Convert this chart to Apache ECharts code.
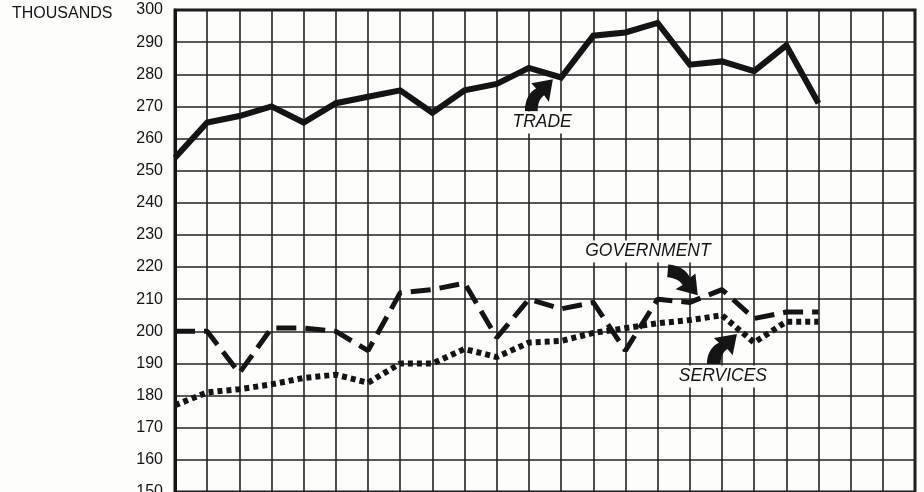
<!DOCTYPE html>
<html>
<head>
<meta charset="utf-8">
<script src="https://cdn.jsdelivr.net/npm/echarts@6/dist/echarts.min.js"></script>
<style>
    html, body { margin: 0; padding: 0; background: #fdfdfc; }
    #chart { width: 924px; height: 492px; }
</style>
</head>
<body>
<div id="chart"></div>
<script>
    // periods along the x axis (one per vertical grid line)
    const periods = [0, 1, 2, 3, 4, 5, 6, 7, 8, 9, 10, 11, 12, 13, 14, 15, 16, 17, 18, 19, 20]
    const trade = [254, 265, 267, 270, 265, 271, 273, 275, 268, 275, 277, 282, 279, 292, 293, 296, 283, 284, 281, 289, 271]
    const government = [200, 200, 187, 201, 201, 200, 194, 212, 213, 215, 198, 210, 207, 209, 194, 210, 209, 213, 204, 206, 206]
    const services = [177, 181, 182, 183.5, 185.5, 186.5, 184, 190, 190, 194.5, 192, 196.5, 197, 199.5, 201, 202.5, 203.5, 205, 196.5, 203, 203]
    const yTicks = [150, 300, 10]   // min, max, step

    const ink = '#141414'
    const font = '"Liberation Sans", Arial, sans-serif'
    const arrowPath = 'path://M3,40 C3,26 9,17 17,13 L11,7 L38,2 L33,29 L27,21 C21,25 19,32 19,40 Z'

    const pairs = (ys) => periods.map((x, i) => [x, ys[i]])

    const note = (text, coord) => ({
        coord: coord,
        symbolSize: 1,
        itemStyle: { color: 'rgba(0,0,0,0)' },
        label: {
            show: true,
            position: 'inside',
            formatter: text,
            color: ink,
            fontFamily: font,
            fontSize: 17.5,
            fontStyle: 'italic',
            backgroundColor: '#fdfdfc',
            padding: [2, 3]
        }
    })

    const arrow = (coord, size, rotate) => ({
        coord: coord,
        symbol: arrowPath,
        symbolSize: size,
        symbolRotate: rotate,
        itemStyle: { color: ink },
        label: { show: false }
    })

    const chart = echarts.init(document.getElementById('chart'))
    chart.setOption({
        animation: false,
        backgroundColor: '#fdfdfc',
        grid: {
            left: 175, right: 9, top: 10, bottom: 0,
            outerBoundsMode: 'none',
            containLabel: false,
            show: true,
            borderColor: ink,
            borderWidth: 3
        },
        graphic: [{
            type: 'text', left: 12, top: 6,
            style: { text: 'THOUSANDS', font: '16px ' + font, fill: ink }
        }],
        xAxis: {
            type: 'value',
            min: 0, max: 23, interval: 1,
            axisLine: { show: false },
            axisTick: { show: false },
            axisLabel: { show: false },
            splitLine: { show: true, lineStyle: { color: '#222', width: 1.6 } }
        },
        yAxis: {
            type: 'value',
            min: yTicks[0], max: yTicks[1], interval: yTicks[2],
            axisLine: { show: true, lineStyle: { color: ink, width: 3 } },
            axisTick: { show: false },
            axisLabel: { color: ink, fontFamily: font, fontSize: 16, margin: 12 },
            splitLine: { show: true, lineStyle: { color: '#222', width: 1.6 } }
        },
        series: [
            {
                name: 'TRADE', type: 'line', data: pairs(trade),
                showSymbol: false, z: 5,
                lineStyle: { color: ink, width: 6, join: 'miter' },
                markPoint: {
                    silent: true,
                    data: [note('TRADE', [11.41, 264.8]), arrow([11.31, 273.5], [28, 32], 0)]
                }
            },
            {
                name: 'GOVERNMENT', type: 'line', data: pairs(government),
                showSymbol: false, z: 4,
                lineStyle: { color: ink, width: 5, type: [20, 9], cap: 'butt' },
                markPoint: {
                    silent: true,
                    data: [note('GOVERNMENT', [14.7, 224.7]), arrow([15.79, 216], [28, 32], -95)]
                }
            },
            {
                name: 'SERVICES', type: 'line', data: pairs(services),
                showSymbol: false, z: 3,
                lineStyle: { color: ink, width: 6, type: [5, 4], cap: 'butt' },
                markPoint: {
                    silent: true,
                    data: [note('SERVICES', [17.03, 185.8]), arrow([17.0, 194.5], [30, 30], 0)]
                }
            }
        ]
    })
</script>
</body>
</html>
